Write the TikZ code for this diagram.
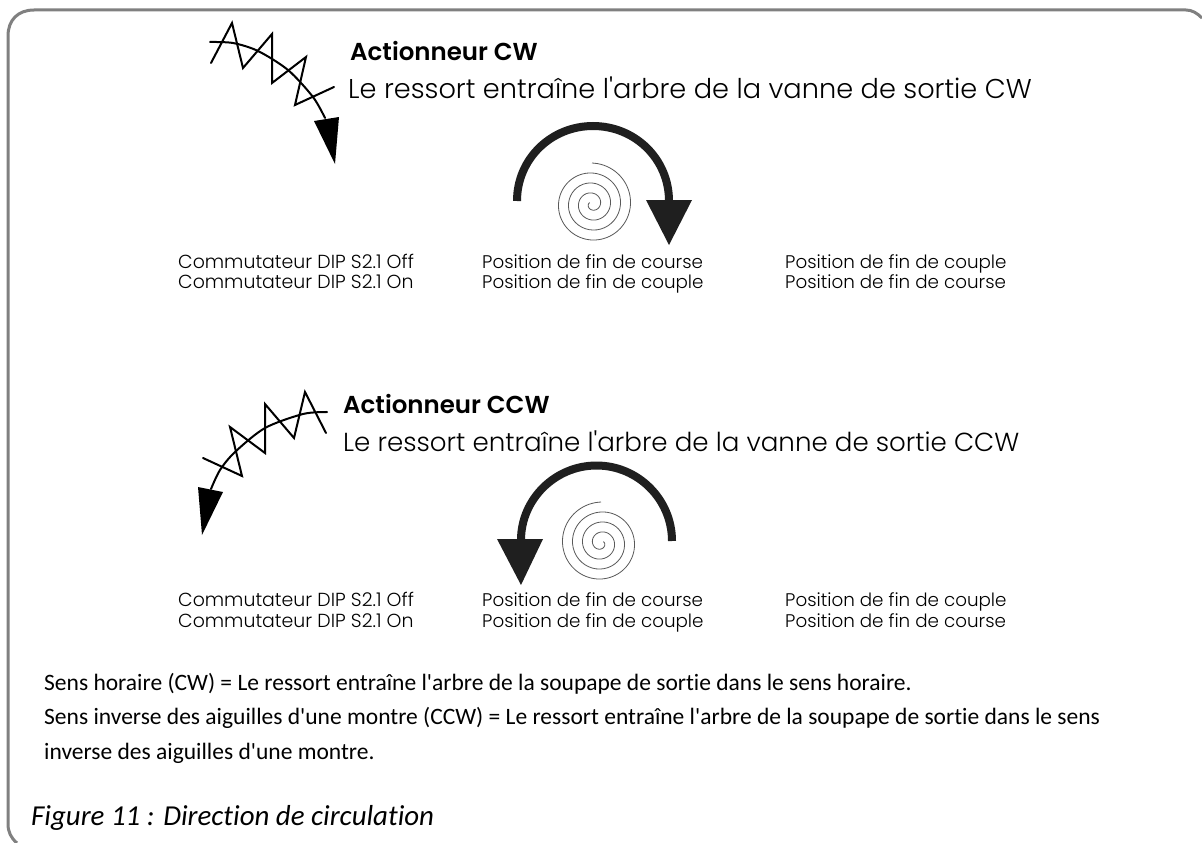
\documentclass[tikz,border=0pt]{standalone}
\usepackage{fontspec}
\setmainfont{Carlito}[RawFeature=-liga]
\newfontfamily\gothic{Poppins Light}
\newfontfamily\gothicb{Poppins SemiBold}
\tikzset{
  lab/.style={anchor=base west,inner sep=0pt,font=\gothic\fontsize{18.3}{22}\selectfont},
  labc/.style={anchor=base west,inner sep=0pt,font=\gothic\fontsize{18.9}{22}\selectfont},
  head/.style={anchor=base west,inner sep=0pt,font=\gothic\fontsize{27.2}{32}\selectfont},
  headc/.style={anchor=base west,inner sep=0pt,font=\gothic\fontsize{26.1}{32}\selectfont},
  headb/.style={anchor=base west,inner sep=0pt,font=\gothicb\fontsize{24.5}{28}\selectfont},
  body/.style={anchor=base west,inner sep=0pt,font=\fontsize{23.5}{28}\selectfont},
  spring/.style={line width=2pt,black,line join=miter,line cap=round},
  big/.style={line width=8pt,draw=black!88},
  spiral/.style={line width=0.8pt,black!65},
}
\begin{document}
\begin{tikzpicture}[x=1pt,y=-1pt]
\useasboundingbox (0,0) rectangle (1202,843);
\fill[white] (0,0) rectangle (1202,843);
\draw[line width=3pt,black!50] (17,843) .. controls (11,838) and (8,832) .. (8,824) -- (8,36) .. controls (8,20) and (18,10) .. (34,10) -- (1186,10) .. controls (1192,10) and (1197,13) .. (1202,18);
% CW spring
\draw[spring] plot[smooth] coordinates {(210,42) (233,43) (258,51) (288,70) (313,97) (325,118)};
\draw[spring] (211,63) -- (232,23) -- (243,68) -- (272,34) -- (272,83) -- (306,57) -- (295,105) -- (334,87);
\fill[black] (314,121) -- (339,117) -- (335,164) -- cycle;
\node[headb] (t1) at (350,60) {Actionneur CW};
\node[head] (t2) at (348,98) {Le ressort entraîne l'arbre de la vanne de sortie CW};
% CW big arrow
\draw[big] (517,201) .. controls (517,159) and (551,126) .. (593,126) .. controls (635,126) and (669,159) .. (669,201);
\fill[black!88] (646,200) -- (692,200) -- (669,245) -- cycle;
\draw[spiral] plot[smooth,domain=0:1380,samples=160] ({592+(41-\x/36)*sin(\x)},{204-(41-\x/36)*cos(\x)});
% CW labels
\node[labc] (a1) at (178,268) {Commutateur DIP S2.1 Off};
\node[labc] (a2) at (178,288.5) {Commutateur DIP S2.1 On};
\node[lab] (a3) at (482,268) {Position de fin de course};
\node[lab] (a4) at (482,288.5) {Position de fin de couple};
\node[lab] (a5) at (785,268) {Position de fin de couple};
\node[lab] (a6) at (785,288.5) {Position de fin de course};
% CCW spring
\draw[spring] plot[smooth] coordinates {(327,412) (303,414) (265,428) (235,452) (220,470) (211,489)};
\draw[spring] (326,433) -- (305,392) -- (294,438) -- (265,404) -- (265,453) -- (230,427) -- (242,476) -- (203,458);
\fill[black] (198,487) -- (223,492) -- (202,535) -- cycle;
\node[headb] (t3) at (343,413) {Actionneur CCW};
\node[headc] (t4) at (343,451) {Le ressort entraîne l'arbre de la vanne de sortie CCW};
% CCW big arrow
\draw[big] (672,541) .. controls (672,499.4) and (638,465.5) .. (596.5,465.5) .. controls (555,465.5) and (521,499.4) .. (521,540);
\fill[black!88] (497,539) -- (543,539) -- (521,585) -- cycle;
\draw[spiral] plot[smooth,domain=0:1380,samples=160] ({601-(41-\x/36)*sin(\x)},{543-(41-\x/36)*cos(\x)});
% CCW labels
\node[labc] (b1) at (178,606) {Commutateur DIP S2.1 Off};
\node[labc] (b2) at (178,627) {Commutateur DIP S2.1 On};
\node[lab] (b3) at (482,606) {Position de fin de course};
\node[lab] (b4) at (482,627) {Position de fin de couple};
\node[lab] (b5) at (785,606) {Position de fin de couple};
\node[lab] (b6) at (785,627) {Position de fin de course};
% notes
\node[body] (n1) at (44,690) {Sens horaire (CW) = Le ressort entraîne l\textquotesingle arbre de la soupape de sortie dans le sens horaire.};
\node[body] (n2) at (44,724.5) {Sens inverse des aiguilles d\textquotesingle une montre (CCW) = Le ressort entraîne l\textquotesingle arbre de la soupape de sortie dans le sens};
\node[body] (n3) at (44,759) {inverse des aiguilles d\textquotesingle une montre.};
\node[anchor=base west,inner sep=0pt,font=\fontsize{28.9}{34}\selectfont\itshape] (cap) at (31,825) {Figure 11 : Direction de circulation};
\end{tikzpicture}
\end{document}
